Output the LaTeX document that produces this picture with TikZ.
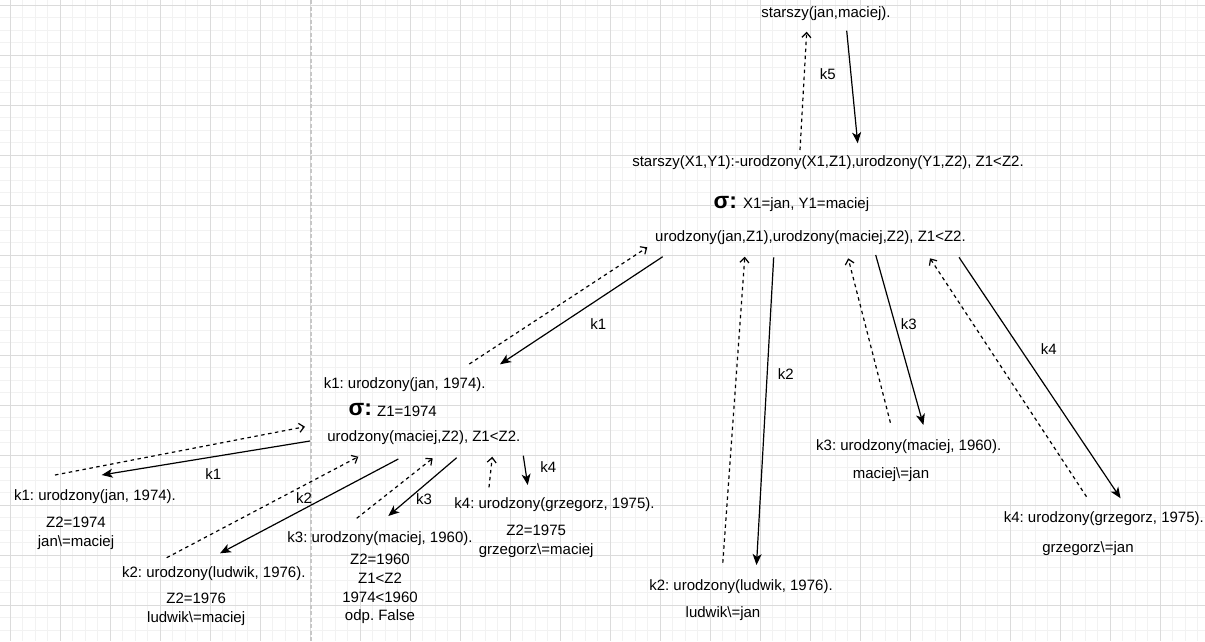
\documentclass[tikz,border=0pt]{standalone}
\usepackage{fontspec}
\setmainfont{Liberation Sans}
\usetikzlibrary{arrows.meta}
\begin{document}
\frenchspacing
\begin{tikzpicture}[x=1pt,y=-1pt,
  txt/.style={font=\fontsize{15}{18.75}\selectfont\frenchspacing, inner sep=0pt, align=center},
  note/.style={txt, anchor=north},
  sigma/.style={font=\fontsize{23}{23}\selectfont\bfseries, inner sep=0pt, anchor=base west},
  subst/.style={txt, anchor=base west},
  gminor/.style={line width=1pt, black!5},
  gmajor/.style={line width=1pt, black!14},
  pagebreak/.style={line width=1.6pt, black!22, dash pattern=on 4pt off 2.5pt},
  back/.style={line width=1.2pt, dash pattern=on 3.5pt off 3.5pt,
    -{Straight Barb[length=5pt,width=9pt]}},
  call/.style={line width=1.2pt, -{Stealth[length=11pt,width=9pt,inset=3pt]}},
]
% canvas and grid
\fill[white] (0,0) rectangle (1205,641);
\useasboundingbox (0,0) rectangle (1205,641);
\foreach \k in {0,...,95} \draw[gminor] ({10.4+12.5*\k},0) -- ({10.4+12.5*\k},641);
\foreach \k in {0,...,50} \draw[gminor] (0,{5.3+12.5*\k}) -- (1205,{5.3+12.5*\k});
\foreach \k in {0,...,23} \draw[gmajor] ({10.4+50*\k},0) -- ({10.4+50*\k},641);
\foreach \k in {0,...,12} \draw[gmajor] (0,{5.3+50*\k}) -- (1205,{5.3+50*\k});
\draw[pagebreak] (311,0) -- (311,641);

% query and clause
\node[txt] (goal) at (826,13.3) {starszy(jan,maciej).};
\node[txt] (rule) at (828,162.7) {starszy(X1,Y1):-urodzony(X1,Z1),urodzony(Y1,Z2), Z1<Z2.};
\node[sigma] (sigA) at (713.5,208) {σ:};
\node[subst] (substA) at (743,208.5) {X1=jan, Y1=maciej};
\node[txt] (goalA) at (810.5,237.3) {urodzony(jan,Z1),urodzony(maciej,Z2), Z1<Z2.};

% first subgoal solved by k1
\node[txt] (m1) at (404.7,384.3) {k1: urodzony(jan, 1974).};
\node[sigma] (sigB) at (348.5,415.5) {σ:};
\node[subst] (substB) at (377,416) {Z1=1974};
\node[txt] (goalB) at (423.8,437.7) {urodzony(maciej,Z2), Z1<Z2.};

% second subgoal candidates
\node[txt] (l1) at (95,496.7) {k1: urodzony(jan, 1974).};
\node[note] (l1n) at (76,516.9) {Z2=1974\\jan\textbackslash=maciej};
\node[txt] (l2) at (213.8,573.3) {k2: urodzony(ludwik, 1976).};
\node[note] (l2n) at (196.2,592.9) {Z2=1976\\ludwik\textbackslash=maciej};
\node[txt] (l3) at (380,538.3) {k3: urodzony(maciej, 1960).};
\node[note] (l3n) at (380,553.9) {Z2=1960\\Z1<Z2\\1974<1960\\odp. False};
\node[txt] (l4) at (554.5,505) {k4: urodzony(grzegorz, 1975).};
\node[note] (l4n) at (536.2,524.6) {Z2=1975\\grzegorz\textbackslash=maciej};

% first subgoal, remaining candidates
\node[txt] (r2) at (741,586.7) {k2: urodzony(ludwik, 1976).};
\node[txt] (r2n) at (723,614) {ludwik\textbackslash=jan};
\node[txt] (r3) at (908.7,446.7) {k3: urodzony(maciej, 1960).};
\node[txt] (r3n) at (891,474.3) {maciej\textbackslash=jan};
\node[txt] (r4) at (1103.8,518.3) {k4: urodzony(grzegorz, 1975).};
\node[txt] (r4n) at (1088,548.3) {grzegorz\textbackslash=jan};

% arrow end points
\coordinate (k5b0) at (800,150);     \coordinate (k5b1) at (806.7,31.7);
\coordinate (k5c0) at (846.7,30.7);  \coordinate (k5c1) at (857.7,143.3);
\coordinate (t1b0) at (469.3,364);   \coordinate (t1b1) at (647.3,247.3);
\coordinate (t1c0) at (662.7,256.7); \coordinate (t1c1) at (500,364.3);
\coordinate (t2b0) at (722.8,562.7); \coordinate (t2b1) at (744.8,256.7);
\coordinate (t2c0) at (773.7,257.3); \coordinate (t2c1) at (756.5,565);
\coordinate (t3b0) at (890.4,422.7); \coordinate (t3b1) at (848.2,258.3);
\coordinate (t3c0) at (875.7,255);   \coordinate (t3c1) at (923.4,425);
\coordinate (t4b0) at (1086.5,496.7);\coordinate (t4b1) at (930,258.3);
\coordinate (t4c0) at (959,257.3);   \coordinate (t4c1) at (1120.6,498.3);
\coordinate (s1b0) at (55,475);      \coordinate (s1b1) at (305,426.7);
\coordinate (s1c0) at (310,441);     \coordinate (s1c1) at (101.7,475);
\coordinate (s2b0) at (166.7,557.7); \coordinate (s2b1) at (358.3,456.7);
\coordinate (s2c0) at (398.3,459);   \coordinate (s2c1) at (220,553.3);
\coordinate (s3b0) at (356.7,518.3); \coordinate (s3b1) at (432.7,458.3);
\coordinate (s3c0) at (456.7,457.7); \coordinate (s3c1) at (388.3,516);
\coordinate (s4b0) at (489,487.3);   \coordinate (s4b1) at (492.3,456.7);
\coordinate (s4c0) at (523.3,455.7); \coordinate (s4c1) at (527.7,485);

% calls (solid) and returns (dashed)
\foreach \a in {k5,t1,t2,t3,t4,s1,s2,s3,s4} {
  \draw[back] (\a b0) -- (\a b1);
  \draw[call] (\a c0) -- (\a c1);
}

% clause labels on the arrows
\node[txt] (lk5) at (827.7,74) {k5};
\node[txt] (lt1) at (598.3,324.3) {k1};
\node[txt] (lt2) at (785.8,374) {k2};
\node[txt] (lt3) at (908.7,324) {k3};
\node[txt] (lt4) at (1048.8,348.7) {k4};
\node[txt] (ls1) at (213.3,474.3) {k1};
\node[txt] (ls2) at (304,498.3) {k2};
\node[txt] (ls3) at (424,499.3) {k3};
\node[txt] (ls4) at (548.3,467.3) {k4};
\end{tikzpicture}
\end{document}
